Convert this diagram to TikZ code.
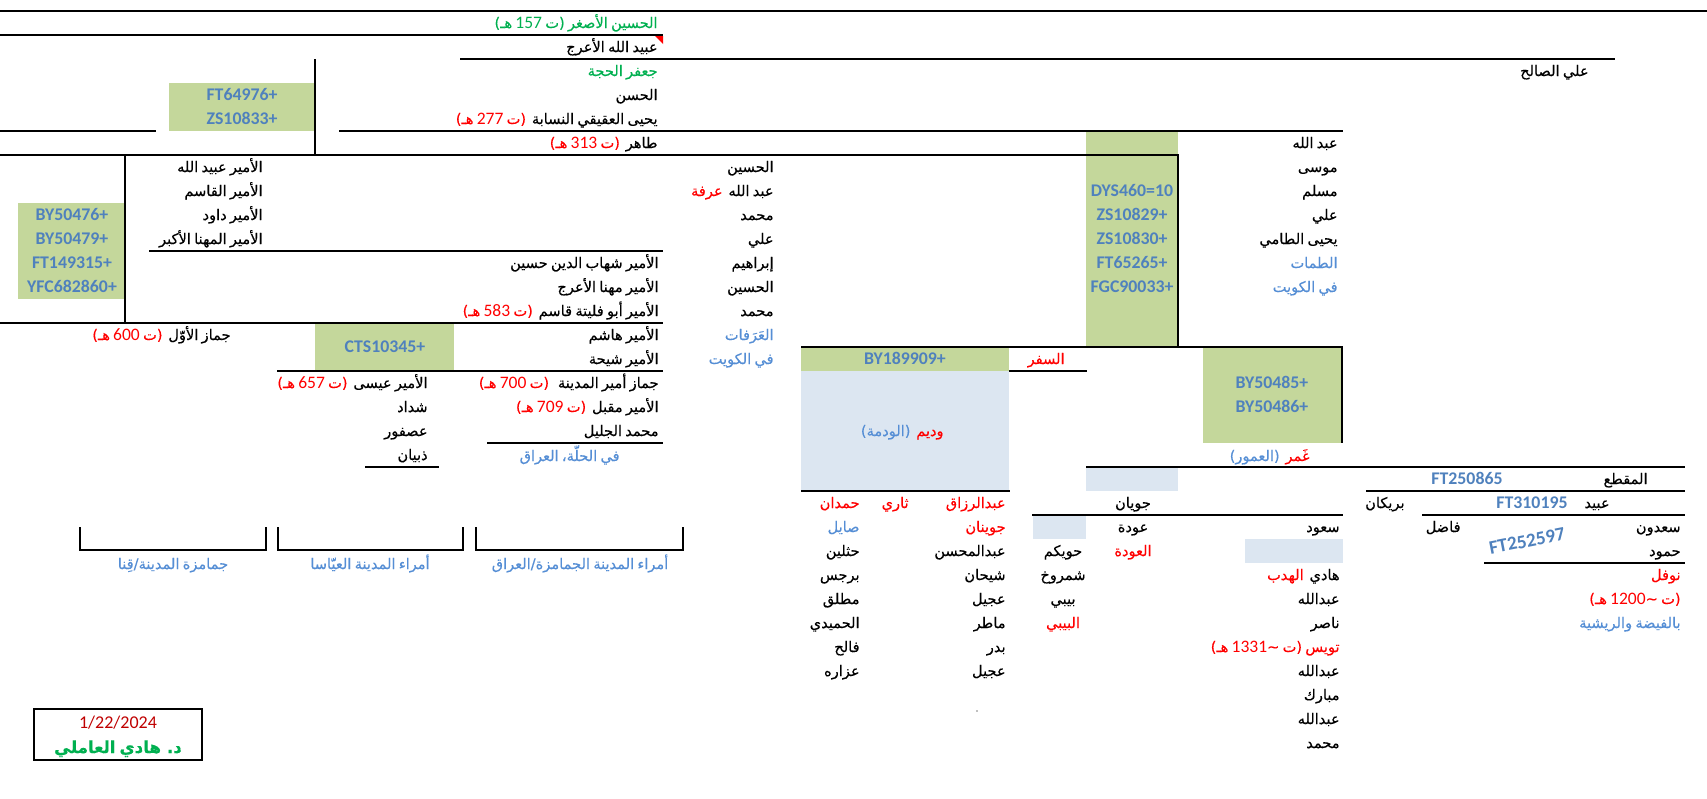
\documentclass[tikz,border=0pt]{standalone}
\usepackage{fontspec}
\setmainfont{Carlito}
\newfontfamily\arabicfont[Script=Arabic, WordSpace=0.7, FakeBold=0.3]{DejaVu Sans}
\newfontfamily\digitfont[Scale=1.2]{Carlito}
\TeXXeTstate=1
\usetikzlibrary{positioning}

\definecolor{cellgreen}{HTML}{C4D79B}
\definecolor{cellgray}{HTML}{DCE6F1}
\definecolor{snpblue}{HTML}{4F81BD}
\definecolor{lblue}{HTML}{558ED5}
\definecolor{dgreen}{HTML}{00B050}
\definecolor{dred}{HTML}{C00000}

\newcommand{\artext}[1]{{\arabicfont\beginR #1\endR}}
\newcommand{\dg}[1]{\beginL{\digitfont #1}\endL{}}
\newcommand{\arsize}{\fontsize{7.3}{9}\selectfont}
\newcommand{\snpsize}{\fontsize{8.9}{10}\selectfont\bfseries}

\tikzset{
  nm/.style={anchor=base east, inner sep=0pt, font=\arsize},
  nmc/.style={anchor=base, inner sep=0pt, font=\arsize},
  snp/.style={anchor=base, inner sep=0pt, font=\snpsize, text=snpblue},
  rule/.style={line width=0.6pt},
}

\begin{document}
\begin{tikzpicture}[x=0.5pt, y=-0.5pt]
	\fill[white] (0,0) rectangle (1707,798);
	\useasboundingbox (0,0) rectangle (1707,798);
	% cells
	\fill[cellgreen] (169,83) rectangle (315,131);
	\fill[cellgreen] (18,203) rectangle (125,299);
	\fill[cellgreen] (1086,131) rectangle (1178,347);
	\fill[cellgreen] (315,323) rectangle (454,371);
	\fill[cellgreen] (801,347) rectangle (1009,371);
	\fill[cellgreen] (1203,347) rectangle (1342,443);
	\fill[cellgray] (801,371) rectangle (1009,491);
	\fill[cellgray] (1086,467) rectangle (1178,491);
	\fill[cellgray] (1033,515) rectangle (1086,539);
	\fill[cellgray] (1245,539) rectangle (1343,563);
	\fill[red] (655,36) -- (663,36) -- (663,44) -- cycle;
	% borders
	\draw[rule] (0,11) -- (1707,11);
	\draw[rule] (0,35) -- (663,35);
	\draw[rule] (460,59) -- (1615,59);
	\draw[rule] (315,59) -- (315,155);
	\draw[rule] (0,131) -- (156,131);
	\draw[rule] (339,131) -- (1343,131);
	\draw[rule] (0,155) -- (1178,155) -- (1178,347);
	\draw[rule] (125,155) -- (125,323);
	\draw[rule] (149,251) -- (663,251);
	\draw[rule] (0,323) -- (663,323);
	\draw[rule] (801,347) -- (1342,347) -- (1342,443);
	\draw[rule] (1009,371) -- (1087,371);
	\draw[rule] (277,371) -- (663,371);
	\draw[rule] (487,443) -- (663,443);
	\draw[rule] (365,467) -- (439,467);
	\draw[rule] (1086,467) -- (1685,467);
	\draw[rule] (801,491) -- (1010,491);
	\draw[rule] (1366,491) -- (1685,491);
	\draw[rule] (1032,515) -- (1343,515);
	\draw[rule] (1422,515) -- (1685,515);
	\draw[rule] (1484,563) -- (1685,563);
	\draw[rule] (80,527) -- (80,550) -- (266,550) -- (266,527);
	\draw[rule] (278,527) -- (278,550) -- (463,550) -- (463,527);
	\draw[rule] (476,527) -- (476,550) -- (683,550) -- (683,527);
	\draw[line width=1.1pt] (34,709) rectangle (202,760);
	\fill[gray] (977,711) circle (0.8);
	% top chain
	\node[nm, text=dgreen] (T1) at (658,28) {\artext{الحسين الأصغر (ت \dg{157} هـ)}};
	\node[nm] (T2) at (658,52) {\artext{عبيد الله الأعرج}};
	\node[nm, text=dgreen] (T3) at (658,76) {\artext{جعفر الحجة}};
	\node[nm] (T4) at (658,100) {\artext{الحسن}};
	\node[nm] (T5) at (658,124) {\artext{يحيى العقيقي النسابة}};
	\node[nm, text=red, base left=2.5pt of T5] (T5d) {\artext{(ت \dg{277} هـ)}};
	\node[nm] (T6) at (658,148) {\artext{طاهر}};
	\node[nm, text=red, base left=2.5pt of T6] (T6d) {\artext{(ت \dg{313} هـ)}};
	\node[nm] (ALI) at (1589,76) {\artext{علي الصالح}};
	\node[snp] (S1) at (242,100) {FT64976+};
	\node[snp] (S2) at (242,124) {ZS10833+};
	% left column
	\node[nm] (L7) at (263,172) {\artext{الأمير عبيد الله}};
	\node[nm] (L8) at (263,196) {\artext{الأمير القاسم}};
	\node[nm] (L9) at (263,220) {\artext{الأمير داود}};
	\node[nm] (L10) at (263,244) {\artext{الأمير المهنا الأكبر}};
	\node[snp] (S3) at (72,220) {BY50476+};
	\node[snp] (S4) at (72,244) {BY50479+};
	\node[snp] (S5) at (72,268) {FT149315+};
	\node[snp] (S6) at (72,292) {YFC682860+};
	\node[nm] (J1) at (231,340) {\artext{جماز الأوّل}};
	\node[nm, text=red, base left=2.5pt of J1] (J1d) {\artext{(ت \dg{600} هـ)}};
	\node[snp] (S7) at (385,352) {CTS10345+};
	% column of al-Husayn
	\node[nm] (H7) at (774,172) {\artext{الحسين}};
	\node[nm] (H8) at (774,196) {\artext{عبد الله}};
	\node[nm, text=red, base left=2.5pt of H8] (H8d) {\artext{عرفة}};
	\node[nm] (H9) at (774,220) {\artext{محمد}};
	\node[nm] (H10) at (774,244) {\artext{علي}};
	\node[nm] (H11) at (774,268) {\artext{إبراهيم}};
	\node[nm] (H12) at (774,292) {\artext{الحسين}};
	\node[nm] (H13) at (774,316) {\artext{محمد}};
	\node[nm, text=lblue] (H14) at (774,340) {\artext{العَرَفات}};
	\node[nm, text=lblue] (H15) at (774,364) {\artext{في الكويت}};
	% column of the amirs
	\node[nm] (P11) at (659,268) {\artext{الأمير شهاب الدين حسين}};
	\node[nm] (P12) at (659,292) {\artext{الأمير مهنا الأعرج}};
	\node[nm] (P13) at (659,316) {\artext{الأمير أبو فليتة قاسم}};
	\node[nm, text=red, base left=2.5pt of P13] (P13d) {\artext{(ت \dg{583} هـ)}};
	\node[nm] (P14) at (659,340) {\artext{الأمير هاشم}};
	\node[nm] (P15) at (659,364) {\artext{الأمير شيحة}};
	\node[nm] (P16) at (659,388) {\artext{جماز أمير المدينة}};
	\node[nm, text=red, base left=4pt of P16] (P16d) {\artext{(ت \dg{700} هـ)}};
	\node[nm] (P17) at (659,412) {\artext{الأمير مقبل}};
	\node[nm, text=red, base left=2.5pt of P17] (P17d) {\artext{(ت \dg{709} هـ)}};
	\node[nm] (P18) at (659,436) {\artext{محمد الجليل}};
	\node[nm, text=lblue] (P19) at (620,461) {\artext{في الحلّة، العراق}};
	\node[nm] (E16) at (428,388) {\artext{الأمير عيسى}};
	\node[nm, text=red, base left=2.5pt of E16] (E16d) {\artext{(ت \dg{657} هـ)}};
	\node[nm] (E17) at (428,412) {\artext{شداد}};
	\node[nm] (E18) at (428,436) {\artext{عصفور}};
	\node[nm] (E19) at (428,460) {\artext{ذبيان}};
	\node[nmc, text=lblue] (B1) at (173,569) {\artext{جمامزة المدينة/قِنا}};
	\node[nmc, text=lblue] (B2) at (370,569) {\artext{أمراء المدينة العيّاسا}};
	\node[nmc, text=lblue] (B3) at (580,569) {\artext{أمراء المدينة الجمامزة/العراق}};
	% right column
	\node[nm] (K6) at (1338,148) {\artext{عبد الله}};
	\node[nm] (K7) at (1338,172) {\artext{موسى}};
	\node[nm] (K8) at (1338,196) {\artext{مسلم}};
	\node[nm] (K9) at (1338,220) {\artext{علي}};
	\node[nm] (K10) at (1338,244) {\artext{يحيى الطامي}};
	\node[nm, text=lblue] (K11) at (1338,268) {\artext{الطمات}};
	\node[nm, text=lblue] (K12) at (1338,292) {\artext{في الكويت}};
	\node[snp] (S8) at (1132,196) {DYS460=10};
	\node[snp] (S9) at (1132,220) {ZS10829+};
	\node[snp] (S10) at (1132,244) {ZS10830+};
	\node[snp] (S11) at (1132,268) {FT65265+};
	\node[snp] (S12) at (1132,292) {FGC90033+};
	% middle
	\node[snp] (S13) at (905,364) {BY189909+};
	\node[nm, text=red] (SFR) at (1065,364) {\artext{السفر}};
	\node[snp] (S14) at (1272,388) {BY50485+};
	\node[snp] (S15) at (1272,412) {BY50486+};
	\node[nm, text=red] (WDM) at (944,436) {\artext{وديم}};
	\node[nm, text=lblue, base left=2.5pt of WDM] (WDMd) {\artext{(الودمة)}};
	\node[nm, text=red] (GMR) at (1310,461) {\artext{غَمر}};
	\node[nm, text=lblue, base left=2.5pt of GMR] (GMRd) {\artext{(العمور)}};
	\node[snp] (S16) at (1467,484) {FT250865};
	\node[nm] (MQT) at (1648,484) {\artext{المقطع}};
	% row 21 on
	\node[nm, text=red] (A21) at (860,508) {\artext{حمدان}};
	\node[nm, text=red] (X21) at (909,508) {\artext{ثاري}};
	\node[nm, text=red] (C21) at (1006,508) {\artext{عبدالرزاق}};
	\node[nmc] (D21) at (1133,508) {\artext{جويان}};
	\node[nm] (F21) at (1405,508) {\artext{بريكان}};
	\node[snp] (S17) at (1532,508) {FT310195};
	\node[nm] (G21) at (1610,508) {\artext{عبيد}};
	\node[nm, text=lblue] (A22) at (860,532) {\artext{صايل}};
	\node[nm, text=red] (C22) at (1006,532) {\artext{جوينان}};
	\node[nmc] (D22) at (1133,532) {\artext{عودة}};
	\node[nm] (E22) at (1340,532) {\artext{سعود}};
	\node[nm] (F22) at (1461,532) {\artext{فاضل}};
	\node[nm] (G22) at (1681,532) {\artext{سعدون}};
	\node[snp, anchor=center, rotate=11, font=\fontsize{9.6}{11}\selectfont\bfseries] (S18) at (1527,541) {FT252597};
	\node[nm] (A23) at (860,556) {\artext{حثلين}};
	\node[nm] (C23) at (1006,556) {\artext{عبدالمحسن}};
	\node[nmc] (W23) at (1063,556) {\artext{حويكم}};
	\node[nmc, text=red] (D23) at (1133,556) {\artext{العودة}};
	\node[nm] (G23) at (1681,556) {\artext{حمود}};
	\node[nm] (A24) at (860,580) {\artext{برجس}};
	\node[nm] (C24) at (1006,580) {\artext{شيحان}};
	\node[nmc] (W24) at (1063,580) {\artext{شمروخ}};
	\node[nm] (E24) at (1340,580) {\artext{هادي}};
	\node[nm, text=red, base left=2.5pt of E24] (E24d) {\artext{الهدب}};
	\node[nm, text=red] (G24) at (1681,580) {\artext{نوفل}};
	\node[nm] (A25) at (860,604) {\artext{مطلق}};
	\node[nm] (C25) at (1006,604) {\artext{عجيل}};
	\node[nmc] (W25) at (1063,604) {\artext{بيبي}};
	\node[nm] (E25) at (1340,604) {\artext{عبدالله}};
	\node[nm, text=red] (G25) at (1681,604) {\artext{(ت \textasciitilde\dg{1200} هـ)}};
	\node[nm] (A26) at (860,628) {\artext{الحميدي}};
	\node[nm] (C26) at (1006,628) {\artext{ماطر}};
	\node[nmc, text=red] (W26) at (1063,628) {\artext{البيبي}};
	\node[nm] (E26) at (1340,628) {\artext{ناصر}};
	\node[nm, text=lblue] (G26) at (1681,628) {\artext{بالفيضة والريشية}};
	\node[nm] (A27) at (860,652) {\artext{فالح}};
	\node[nm] (C27) at (1006,652) {\artext{بدر}};
	\node[nm, text=red] (E27) at (1340,652) {\artext{تويس (ت \textasciitilde\dg{1331} هـ)}};
	\node[nm] (A28) at (860,676) {\artext{عزاره}};
	\node[nm] (C28) at (1006,676) {\artext{عجيل}};
	\node[nm] (E28) at (1340,676) {\artext{عبدالله}};
	\node[nm] (E29) at (1340,700) {\artext{مبارك}};
	\node[nm] (E30) at (1340,724) {\artext{عبدالله}};
	\node[nm] (E31) at (1340,748) {\artext{محمد}};
	% signature box
	\node[anchor=base, inner sep=0pt, font=\fontsize{9}{10}\selectfont, text=dred] (DATE) at (118,728) {1/22/2024};
	\node[nmc, text=dgreen, font=\fontsize{8.3}{10}\selectfont\bfseries] (SIG) at (118,753) {\artext{د. هادي العاملي}};
\end{tikzpicture}
\end{document}
